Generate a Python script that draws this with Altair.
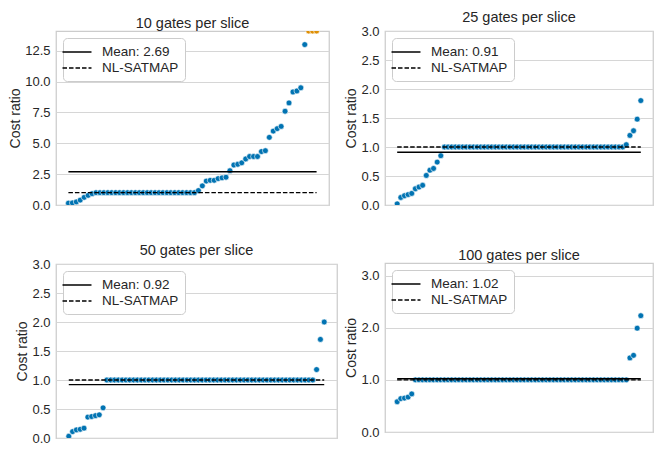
import altair as alt
import pandas as pd

FONT = "Liberation Sans"
BLUE = "#0173b2"
ORANGE = "#de8f05"
TEXT = "#262626"
GRID = "#d6d6d6"
FRAME = "#cccccc"

titles = ["10 gates per slice", "25 gates per slice", "50 gates per slice", "100 gates per slice"]
means = [2.69, 0.91, 0.92, 1.02]
baseline_label = "NL-SATMAP"
baseline_value = 1.0

# sorted cost ratios
ratios_10 = [0.15, 0.17, 0.25, 0.40, 0.62, 0.78, 0.92,
             1.0, 1.0, 1.0, 1.0, 1.0, 1.0, 1.0, 1.0, 1.0, 1.0, 1.0, 1.0, 1.0,
             1.0, 1.0, 1.0, 1.0, 1.0, 1.0, 1.0, 1.0, 1.0, 1.0, 1.0, 1.0, 1.0,
             1.17, 1.55, 1.94, 2.0, 2.0, 2.14, 2.2, 2.25, 2.78, 3.24, 3.3, 3.42,
             3.73, 3.93, 3.93, 3.93, 4.33, 4.4, 5.48, 5.99, 6.19, 6.37, 7.6, 8.27,
             9.16, 9.24, 9.5, 13.0]
# points beyond the top of the axis (drawn clipped at the edge)
beyond_10 = [14.1, 14.1, 14.1]

ratios_25 = [0.02, 0.13, 0.16, 0.18, 0.20, 0.28, 0.31, 0.34, 0.51, 0.60, 0.63, 0.74, 0.85,
             1.0, 1.0, 1.0, 1.0, 1.0, 1.0, 1.0, 1.0, 1.0, 1.0, 1.0, 1.0, 1.0, 1.0, 1.0,
             1.0, 1.0, 1.0, 1.0, 1.0, 1.0, 1.0, 1.0, 1.0, 1.0, 1.0, 1.0, 1.0, 1.0, 1.0,
             1.0, 1.0, 1.0, 1.0, 1.0, 1.0, 1.0, 1.0, 1.0, 1.0, 1.0, 1.0, 1.0, 1.0, 1.0,
             1.0, 1.0, 1.0, 1.0, 1.0,
             1.04, 1.2, 1.28, 1.48, 1.8]

ratios_50 = [0.03, 0.11, 0.14, 0.15, 0.17, 0.36, 0.37, 0.385, 0.40, 0.52,
             1.0, 1.0, 1.0, 1.0, 1.0, 1.0, 1.0, 1.0, 1.0, 1.0, 1.0, 1.0, 1.0, 1.0,
             1.0, 1.0, 1.0, 1.0, 1.0, 1.0, 1.0, 1.0, 1.0, 1.0, 1.0, 1.0, 1.0, 1.0,
             1.0, 1.0, 1.0, 1.0, 1.0, 1.0, 1.0, 1.0, 1.0, 1.0, 1.0, 1.0, 1.0, 1.0,
             1.0, 1.0, 1.0, 1.0, 1.0, 1.0, 1.0, 1.0, 1.0, 1.0, 1.0, 1.0, 1.0,
             1.18, 1.7, 2.0]

ratios_100 = [0.58, 0.64, 0.65, 0.67, 0.73,
              1.0, 1.0, 1.0, 1.0, 1.0, 1.0, 1.0, 1.0, 1.0, 1.0, 1.0, 1.0, 1.0, 1.0,
              1.0, 1.0, 1.0, 1.0, 1.0, 1.0, 1.0, 1.0, 1.0, 1.0, 1.0, 1.0, 1.0, 1.0,
              1.0, 1.0, 1.0, 1.0, 1.0, 1.0, 1.0, 1.0, 1.0, 1.0, 1.0, 1.0, 1.0, 1.0,
              1.0, 1.0, 1.0, 1.0, 1.0, 1.0, 1.0, 1.0, 1.0, 1.0, 1.0, 1.0, 1.0, 1.0,
              1.0, 1.0, 1.0,
              1.42, 1.47, 1.99, 2.23]

y_max = [14.1, 3.0, 3.0, 3.24]
y_ticks = [[0, 2.5, 5, 7.5, 10, 12.5],
           [0, 0.5, 1.0, 1.5, 2.0, 2.5, 3.0],
           [0, 0.5, 1.0, 1.5, 2.0, 2.5, 3.0],
           [0, 1.0, 2.0, 3.0]]


def panel(vals, beyond, mean, title, ymax, tick_values, w, h):
    n = len(vals) + len(beyond)
    pts = pd.DataFrame({
        "i": list(range(n)),
        "v": list(vals) + list(beyond),
        "c": [BLUE] * len(vals) + [ORANGE] * len(beyond),
    })
    mean_label = f"Mean: {mean:.2f}"
    lines = pd.DataFrame({
        "kind": [mean_label, baseline_label],
        "v": [mean, baseline_value],
        "i": [0, 0],
        "i1": [n - 1, n - 1],
    })
    pad = 0.05 * (n - 1)
    xs = alt.Scale(domain=[-pad, n - 1 + pad], nice=False, zero=False)
    ys = alt.Scale(domain=[0, ymax], nice=False, zero=False)
    yaxis = alt.Axis(title="Cost ratio", values=tick_values, format=".1f",
                     labelOverlap=False, domain=False, ticks=False, grid=True,
                     gridColor=GRID, gridWidth=1,
                     labelFont=FONT, labelFontSize=13, labelColor=TEXT,
                     labelPadding=6, titleFont=FONT, titleFontSize=14,
                     titleFontWeight="normal", titleColor=TEXT, titlePadding=2)

    points = alt.Chart(pts).mark_circle(
        size=34, opacity=1, stroke="white", strokeWidth=0.6, clip=True
    ).encode(
        color=alt.Color("c:N", scale=None),
    )
    rules = alt.Chart(lines).mark_rule(color="black", strokeWidth=1.4).encode(
        x2="i1:Q",
        strokeDash=alt.StrokeDash(
            "kind:N",
            scale=alt.Scale(domain=[mean_label, baseline_label], range=[[1, 0], [4.5, 2]]),
            legend=alt.Legend(
                title=None, orient="top-left", offset=7, padding=6,
                fillColor="white", strokeColor=FRAME, cornerRadius=4,
                symbolType="M-2,0H2", symbolSize=210, symbolStrokeColor="black",
                symbolStrokeWidth=1.4, labelOffset=17, rowPadding=1,
                labelFont=FONT, labelFontSize=13.5, labelColor=TEXT,
            ),
        ),
    )
    return alt.layer(points, rules).encode(
        x=alt.X("i:Q", scale=xs, axis=None),
        y=alt.Y("v:Q", scale=ys, axis=yaxis),
    ).properties(
        width=w, height=h,
        title=alt.Title(title, font=FONT, fontSize=14.5, fontWeight="normal",
                        color=TEXT, offset=0),
    ).resolve_scale(strokeDash="independent")


p1 = panel(ratios_10, beyond_10, means[0], titles[0], y_max[0], y_ticks[0], 273, 174)
p2 = panel(ratios_25, [], means[1], titles[1], y_max[1], y_ticks[1], 268, 174)
p3 = panel(ratios_50, [], means[2], titles[2], y_max[2], y_ticks[2], 281, 174)
p4 = panel(ratios_100, [], means[3], titles[3], y_max[3], y_ticks[3], 268, 169)

col1 = alt.vconcat(p1, p3, spacing=28)
col2 = alt.vconcat(p2, p4, spacing=33)

chart = alt.hconcat(col1, col2, spacing=6).resolve_scale(
    strokeDash="independent"
).properties(
    padding={"left": 0, "top": 0, "right": 0, "bottom": 0},
    background="white",
).configure_view(
    stroke=FRAME, strokeWidth=1.25
)

chart.save("out.html", embed_options={"renderer": "svg", "actions": False})
